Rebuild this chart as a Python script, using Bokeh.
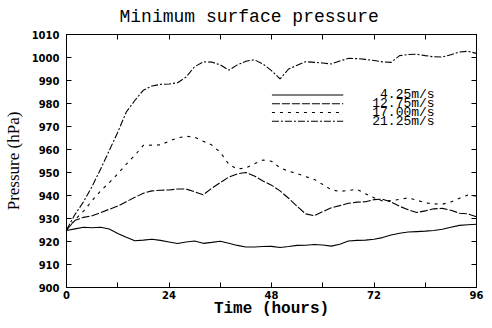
from bokeh.plotting import figure
from bokeh.models import (FixedTicker, SingleIntervalTicker, LinearAxis, Range1d,
                          ColumnDataSource, CustomLabelingPolicy)
from bokeh.core.properties import value
from bokeh.embed import file_html
from bokeh.resources import INLINE

# ---- data ----
hours = [0, 2, 4, 6, 8, 10, 12, 14, 16, 18, 20, 22, 24, 26, 28, 30, 32, 34, 36, 38,
         40, 42, 44, 46, 48, 50, 52, 54, 56, 58, 60, 62, 64, 66, 68, 70, 72, 74, 76,
         78, 80, 82, 84, 86, 88, 90, 92, 94, 96]

p_425 = [924.8, 925.5, 926.2, 926.0, 926.2, 925.4, 923.5, 921.8, 920.3, 920.6,
         921.0, 920.5, 919.8, 919.1, 919.8, 920.2, 919.2, 919.6, 920.1, 919.2,
         918.3, 917.6, 917.6, 917.8, 917.9, 917.4, 917.8, 918.3, 918.4, 918.7,
         918.5, 918.0, 918.8, 920.2, 920.5, 920.6, 921.0, 921.7, 922.8, 923.6,
         924.1, 924.3, 924.5, 924.8, 925.3, 926.2, 927.0, 927.3, 927.5]

p_1275 = [925.0, 929.2, 930.5, 931.2, 932.6, 934.0, 935.4, 937.3, 939.2, 941.0,
          942.0, 942.3, 942.4, 942.8, 942.8, 941.6, 940.3, 943.1, 945.6, 948.0,
          949.4, 950.0, 948.5, 946.3, 944.5, 942.0, 938.8, 935.3, 932.0, 931.2,
          933.0, 934.7, 935.6, 936.6, 937.1, 937.3, 938.2, 938.4, 937.2, 935.3,
          933.8, 932.6, 933.3, 934.2, 934.4, 933.6, 932.3, 932.0, 930.7]

p_1700 = [925.0, 929.5, 933.2, 937.8, 942.0, 945.6, 949.4, 953.6, 957.5, 961.8,
          961.9, 962.0, 963.6, 965.0, 965.8, 965.3, 963.6, 962.0, 958.8, 953.6,
          951.5, 952.0, 953.8, 955.4, 954.9, 952.0, 950.6, 949.5, 948.2, 947.0,
          944.8, 942.5, 941.8, 942.2, 942.7, 940.8, 939.0, 937.6, 937.8, 938.3,
          939.0, 938.0, 936.8, 936.4, 936.2, 937.2, 938.8, 940.2, 939.8]

p_2125 = [925.0, 931.8, 937.3, 944.0, 951.5, 959.5, 967.5, 976.3, 981.3, 985.8,
          987.6, 988.3, 988.5, 989.0, 991.5, 996.0, 998.1, 998.0, 996.8, 994.5,
          996.8, 998.4, 999.0, 997.2, 994.3, 990.7, 995.0, 996.6, 998.2, 997.9,
          997.6, 997.2, 998.5, 999.6, 999.5, 999.2, 998.7, 998.1, 997.9, 1000.8,
          1001.3, 1001.4, 1000.8, 1000.3, 1000.2, 1001.2, 1002.4, 1002.7, 1001.8]

series_labels = ["4.25m/s", "12.75m/s", "17.00m/s", "21.25m/s"]
series_values = [p_425, p_1275, p_1700, p_2125]
series_dash = ["solid", "8 2", "3 5", "7 2 2 2"]

x_major_ticks = [0, 24, 48, 72, 96]
x_minor_ticks = [12, 36, 60, 84]

# ---- figure ----
p = figure(width=484, height=320, output_backend="svg", toolbar_location=None,
           x_range=Range1d(0, 96), y_range=Range1d(900, 1010),
           min_border_left=10, min_border_right=8, min_border_top=25, min_border_bottom=0)
p.background_fill_color = "white"
p.border_fill_color = "white"
p.outline_line_color = "black"
p.outline_line_width = 1
p.xgrid.visible = False
p.ygrid.visible = False

p.title.text = "Minimum surface pressure"
p.title.text_font = "Liberation Mono"
p.title.text_font_size = "18px"
p.title.text_font_style = "normal"
p.title.text_color = "black"
p.title.align = "left"
p.title.offset = 53
p.title.standoff = 8

tick_font = "DejaVu Sans"
hide_all = CustomLabelingPolicy(code="return new Set()")

def style_axis(ax, labels=True):
    ax.axis_line_color = "black"
    ax.major_tick_in = 5
    ax.major_tick_out = 0
    ax.minor_tick_in = 5
    ax.minor_tick_out = 0
    ax.major_tick_line_color = "black"
    ax.minor_tick_line_color = "black"
    ax.major_label_text_font = tick_font
    ax.major_label_text_font_style = "bold"
    ax.major_label_text_color = "black"
    if labels:
        ax.major_label_text_font_size = "10px"
    else:
        ax.major_label_text_font_size = "1px"
        ax.major_label_policy = hide_all
        ax.major_label_standoff = 0

xt = FixedTicker(ticks=x_major_ticks, minor_ticks=x_minor_ticks)
yt = SingleIntervalTicker(interval=10, num_minor_ticks=0)

xa = p.xaxis[0]
xa.ticker = xt
style_axis(xa)
xa.major_label_standoff = 3
xa.major_label_text_line_height = 0.9
xa.axis_label = "Time (hours)"
xa.axis_label_text_font = "Liberation Mono"
xa.axis_label_text_font_style = "bold"
xa.axis_label_text_font_size = "16px"
xa.axis_label_text_color = "black"
xa.axis_label_text_line_height = 0.8
xa.axis_label_standoff = -2

ya = p.yaxis[0]
ya.ticker = yt
style_axis(ya)
ya.major_label_standoff = 7
ya.axis_label = "Pressure (hPa)"
ya.axis_label_text_font = "Liberation Serif"
ya.axis_label_text_font_style = "normal"
ya.axis_label_text_font_size = "17px"
ya.axis_label_text_color = "black"
ya.axis_label_standoff = 6

top = LinearAxis(ticker=FixedTicker(ticks=x_major_ticks, minor_ticks=x_minor_ticks))
style_axis(top, labels=False)
p.add_layout(top, "above")

right = LinearAxis(ticker=SingleIntervalTicker(interval=10, num_minor_ticks=0))
style_axis(right, labels=False)
p.add_layout(right, "right")

for vals, dash in zip(series_values, series_dash):
    p.line(hours, vals, line_color="black", line_width=1.1, line_dash=dash)

# ---- legend drawn inside plot (layout positions in data units) ----
leg_x0, leg_x1, leg_text_x = 48.1, 64.8, 86.2
leg_y = [983.7, 979.9, 976.1, 972.3]
for lbl, dash, yy in zip(series_labels, series_dash, leg_y):
    p.line([leg_x0, leg_x1], [yy, yy], line_color="black", line_width=1.1, line_dash=dash)
src = ColumnDataSource(dict(x=[leg_text_x] * 4, y=leg_y, t=series_labels))
p.text(x="x", y="y", text="t", source=src, text_font=value("Liberation Mono"),
       text_font_size="13px", text_align="right", text_baseline="middle",
       text_color="black")

open("out.html", "w").write(file_html(p, INLINE))
